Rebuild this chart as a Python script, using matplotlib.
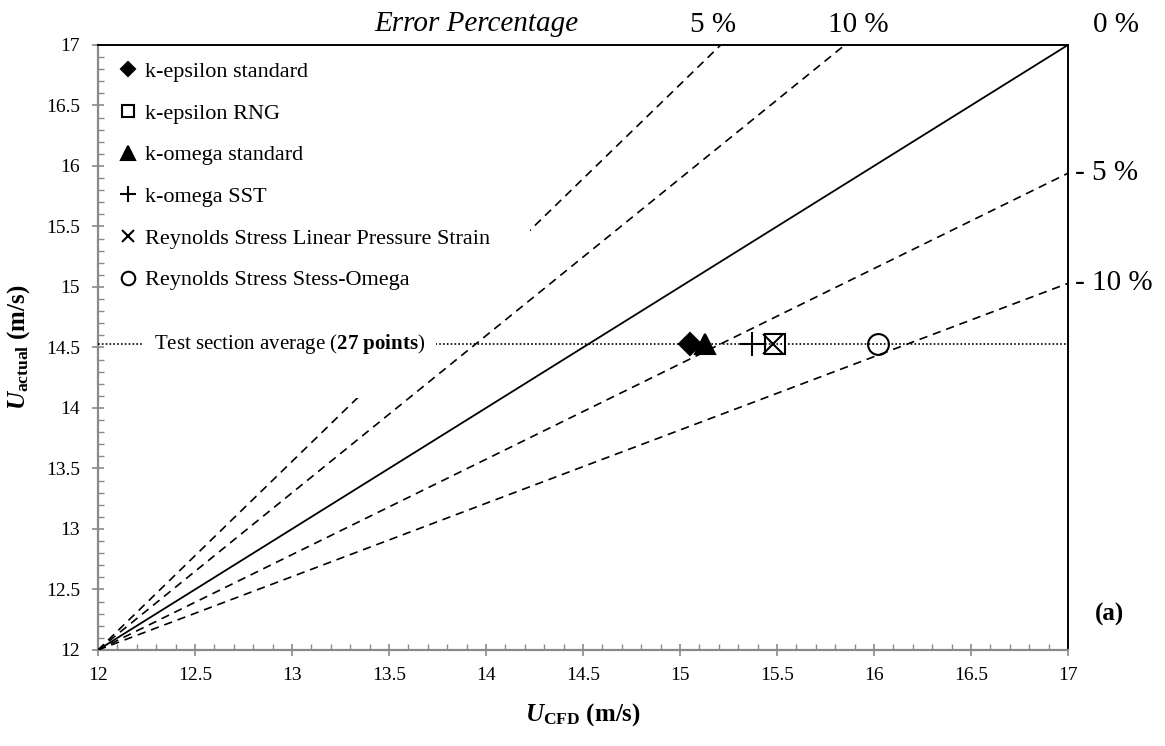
import numpy as np
import matplotlib
matplotlib.use("Agg")
import matplotlib.pyplot as plt
from matplotlib.patches import Rectangle
from matplotlib.ticker import MultipleLocator, FormatStrFormatter

plt.rcParams['font.family'] = ['Liberation Serif', 'DejaVu Serif']
plt.rcParams['mathtext.fontset'] = 'custom'
plt.rcParams['mathtext.rm'] = 'Liberation Serif'
plt.rcParams['mathtext.it'] = 'Liberation Serif:italic:bold'
plt.rcParams['mathtext.bf'] = 'Liberation Serif:bold'

# CFD models, predicted velocity vs measured test-section average
models = ['k-epsilon standard', 'k-epsilon RNG', 'k-omega standard',
          'k-omega SST', 'Reynolds Stress Linear Pressure Strain',
          'Reynolds Stress Stess-Omega']
u_cfd = [15.05, 15.49, 15.13, 15.37, 15.48, 16.02]
u_actual = 14.53

# error-percentage guide lines, all starting at (12, 12)
err_labels = ['5 %', '10 %', '0 %', '- 5 %', '- 10 %']
err_end_x = [15.21, 15.85, 17.0, 17.0, 17.0]
err_end_y = [17.0, 17.0, 17.0, 15.94, 15.03]

markers = ['D', 's', '^', '+', 'x', 'o']
msizes = [11, 14, 15, 17, 14, 15]
filled = [True, False, True, True, True, False]

fig = plt.figure(figsize=(11.65, 7.46), dpi=100)
ax = fig.add_axes([0.0841, 0.1287, 0.8326, 0.811])
ax.set_xlim(12, 17)
ax.set_ylim(12, 17)

dash = (0, (5, 3.5))
for i, lab in enumerate(err_labels):
    xs = [12, err_end_x[i]]
    ys = [12, err_end_y[i]]
    if lab == '0 %':
        ax.plot(xs, ys, color='black', lw=1.3, zorder=3)
    else:
        # the 5 % line sits behind the legend box
        ax.plot(xs, ys, color='black', lw=1.2, ls=dash,
                zorder=1 if lab == '5 %' else 3)

# white legend panel
ax.add_patch(Rectangle((0, 0.4165), 0.445, 0.5835, transform=ax.transAxes,
                       facecolor='white', edgecolor='none', zorder=1.5))

# test section average line and label
ax.plot([12, 17], [u_actual, u_actual], color='black', lw=1.2,
        ls=(0, (1, 1.3)), zorder=3)
ax.text(12.29, u_actual, r'Test section average ($\mathbf{27\ points}$)',
        fontsize=15, ha='left', va='center', zorder=4,
        bbox=dict(boxstyle='square,pad=0.5', facecolor='white', edgecolor='none'))

for i in range(len(models)):
    fc = 'black' if filled[i] else 'none'
    ax.plot(u_cfd[i], u_actual, marker=markers[i], ms=msizes[i],
            mfc=fc, mec='black', mew=1.5, ls='none', label=models[i], zorder=5)

leg = ax.legend(loc='upper left', bbox_to_anchor=(0.0224, 0.9727),
                frameon=False, fontsize=16, markerscale=0.65,
                handlelength=0.75, handletextpad=0.4, labelspacing=0.95,
                borderpad=0, borderaxespad=0)
leg.set_zorder(6)

# error labels
for i, lab in enumerate(err_labels):
    if err_end_y[i] >= 17:
        lx = {'5 %': 15.17, '10 %': 15.92, '0 %': 17.25}[lab]
        ax.annotate(lab, xy=(lx, 17), xytext=(0, 9), textcoords='offset points',
                    ha='center', va='baseline', fontsize=21, annotation_clip=False)
    else:
        ax.annotate(lab, xy=(17, err_end_y[i]), xytext=(5, 0),
                    textcoords='offset points', ha='left', va='center',
                    fontsize=21, annotation_clip=False)

ax.annotate('Error Percentage', xy=(13.95, 17), xytext=(0, 10),
            textcoords='offset points', ha='center', va='baseline',
            fontsize=21, style='italic', annotation_clip=False)
ax.text(1.043, 0.058, '(a)', transform=ax.transAxes, fontsize=18,
        fontweight='bold', ha='center', va='center')

# axes styling
for side in ['left', 'bottom']:
    ax.spines[side].set_color('#8a8a8a')
    ax.spines[side].set_linewidth(1.6)
for side in ['top', 'right']:
    ax.spines[side].set_color('black')
    ax.spines[side].set_linewidth(1.4)

ax.xaxis.set_major_locator(MultipleLocator(0.5))
ax.yaxis.set_major_locator(MultipleLocator(0.5))
ax.xaxis.set_minor_locator(MultipleLocator(0.1))
ax.yaxis.set_minor_locator(MultipleLocator(0.1))
ax.xaxis.set_major_formatter(FormatStrFormatter('%g'))
ax.yaxis.set_major_formatter(FormatStrFormatter('%g'))
ax.tick_params(which='major', direction='inout', length=8, width=1.2,
               color='#8a8a8a', labelsize=14)
ax.tick_params(which='minor', direction='in', length=4, width=1.0, color='#8a8a8a')
ax.tick_params(axis='x', which='major', pad=8)
ax.tick_params(axis='y', which='major', pad=9)
ax.tick_params(top=False, right=False, which='both')

ax.set_xlabel(r'$U_{\mathbf{CFD}}$ (m/s)', fontsize=18, fontweight='bold')
ax.set_ylabel(r'$U_{\mathbf{actual}}$ (m/s)', fontsize=18, fontweight='bold')
ax.xaxis.set_label_coords(0.5, -0.085)
ax.yaxis.set_label_coords(-0.068, 0.5)

fig.savefig('out.png', dpi=100)
